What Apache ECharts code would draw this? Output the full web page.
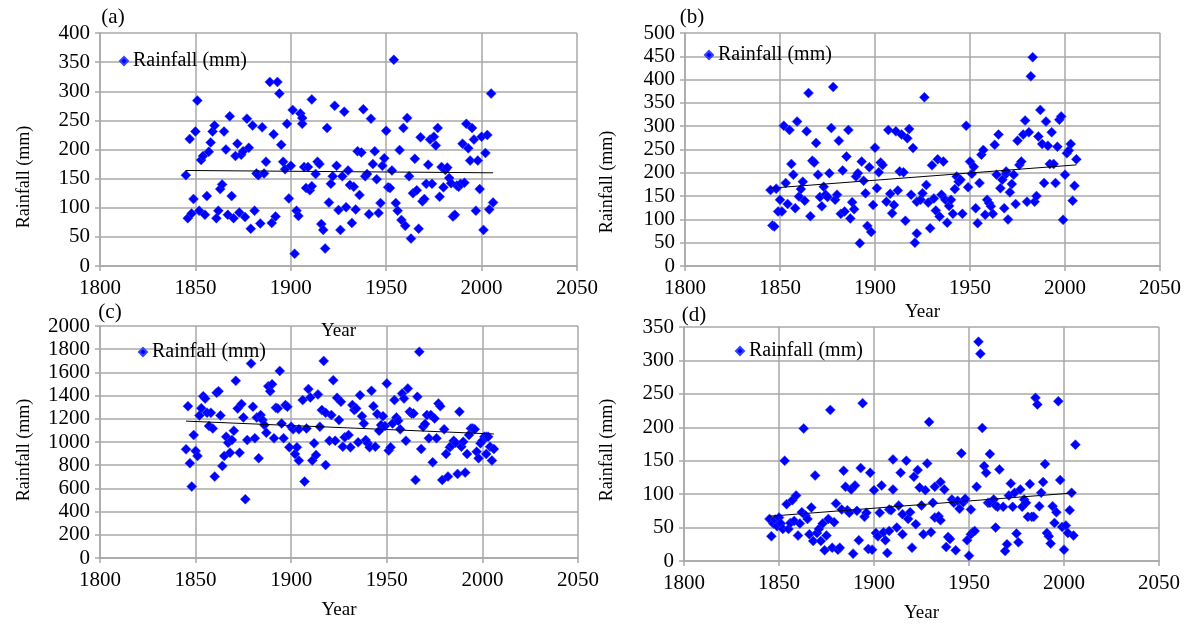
<!DOCTYPE html>
<html><head><meta charset="utf-8">
<script src="https://cdn.jsdelivr.net/npm/echarts/dist/echarts.min.js"></script>
<style>html,body{margin:0;padding:0;background:#fff}#c{width:1190px;height:625px}</style>
</head><body><div id="c"></div><script>
// ---------- DATA ----------
const panelLabels = ['(a)', '(b)', '(c)', '(d)'];
const seriesName = 'Rainfall (mm)';
const xTitle = 'Year';
const yTitle = 'Rainfall (mm)';
const xTicks = {min: 1800, max: 2050, interval: 50};
const yMax = [400, 500, 2000, 350];
const yInterval = [50, 50, 200, 50];

const yearsA = [1845,1846,1847,1848,1849,1850,1851,1852,1853,1854,1855,1856,1857,1858,1859,1860,1861,1862,1863,1864,1865,1866,1867,1868,1869,1870,1871,1872,1873,1874,1875,1876,1877,1878,1879,1880,1881,1882,1883,1884,1885,1886,1887,1889,1890,1891,1892,1893,1894,1895,1896,1897,1898,1899,1900,1901,1902,1903,1904,
1905,1906,1906,1907,1908,1909,1910,1911,1911,1913,1914,1915,1916,1917,1918,1919,1920,1921,1922,1923,1924,1925,1926,1927,1928,1929,1930,1931,1932,1933,1934,1935,1936,1937,1938,1939,1940,1941,1942,1943,1944,1945,1946,1947,1948,1949,1950,1951,1952,1953,1954,1955,1956,1957,1958,1959,1960,1961,1962,1963,1964,1965,1966,1967,1968,1969,1970,1971,1972,1973,1974,1975,1976,1977,1978,1979,1980,1981,1982,1983,1984,1985,1986,1987,1988,1989,1990,1991,1992,1993,1994,1995,1996,1997,1998,1999,2000,2001,2002,2003,2004,2005,2006];
const rainA = [156,82,218,90,115,231,284,95,182,189,88,120,196,212,231,241,82,95,132,140,231,200,88,257,120,82,189,210,92,191,197,84,253,203,64,241,95,159,156,73,238,159,179,316,74,226,85,316,296,208,179,166,244,116,172,268,21,95,86,
262,244,254,170,134,170,130,286,137,158,179,175,72,62,30,237,109,141,154,275,172,96,62,154,265,101,164,139,74,136,97,197,122,195,269,154,158,89,253,175,197,149,91,108,172,185,232,135,134,164,354,108,95,199,79,237,69,254,154,47,125,184,130,64,221,111,115,141,174,217,141,222,207,237,119,170,135,165,169,151,142,85,88,138,136,141,210,143,244,202,181,237,217,95,181,132,222,62,194,225,97,296,109];

const yearsB = [1845,1846,1847,1848,1849,1850,1851,1852,1853,1854,1855,1856,1857,1858,1859,1860,1861,1862,1863,1864,1865,1866,1867,1868,1869,1870,1871,1872,1873,1874,1875,1876,1877,1878,1879,1880,1881,1882,1883,1884,1885,1886,1887,1888,1889,1890,1891,1892,1893,1894,1895,1896,1897,1898,1899,1900,1901,1902,1903,1904,
1906,1907,1908,1909,1910,1911,1912,1913,1914,1915,1916,1917,1918,1919,1920,1921,1922,1922,1924,1925,1926,1927,1928,1929,1930,1931,1932,1933,1934,1935,1936,1937,1938,1939,1940,1941,1942,1943,1944,1945,1946,1948,1949,1950,1951,1952,1953,1954,1955,1956,1957,1958,1959,1960,1961,1962,1963,1964,1965,1966,1967,1968,1969,1969,1970,1971,1972,1973,1974,1975,1976,1977,1978,1979,1980,1981,1982,1983,1984,1985,1986,1987,1988,1989,1990,1991,1992,1993,1994,1995,1996,1997,1998,1999,2000,2001,2002,2003,2004,2005,2006];
const rainB = [163,87,85,166,117,142,117,301,178,133,292,219,196,124,310,149,165,181,140,289,371,107,226,222,264,196,148,128,170,153,148,199,296,384,142,153,269,112,205,117,235,292,102,137,122,192,199,49,224,183,156,86,212,73,131,254,167,201,222,217,
138,292,155,113,131,289,162,203,282,201,97,274,294,153,253,50,70,138,142,156,362,174,136,81,216,145,119,229,106,153,224,142,93,129,142,112,165,192,181,185,112,301,169,224,198,213,124,92,178,239,249,110,142,135,128,112,260,196,282,167,185,124,198,203,100,158,176,196,133,269,217,224,282,312,138,287,407,448,138,150,278,335,262,178,310,258,219,287,219,178,256,314,321,99,196,242,248,262,140,172,229];

const yearsC = [1845,1846,1847,1848,1849,1850,1851,1852,1853,1854,1855,1856,1857,1858,1859,1860,1861,1862,1863,1864,1865,1866,1867,1868,1869,1870,1871,1872,1873,1874,1875,1876,1877,1879,1880,1881,1882,1883,1884,1885,1886,1887,1888,1889,1890,1891,1892,1893,1894,1895,1896,1897,1898,1899,1900,1901,1902,1903,1904,1904,
1906,1907,1908,1909,1910,1911,1912,1913,1914,1915,1916,1917,1918,1918,1920,1921,1922,1923,1924,1925,1926,1927,1928,1930,1931,1932,1933,1934,1935,1936,1937,1938,1939,1940,1941,1942,1943,1944,1945,1946,1947,1948,1949,1950,1951,1952,1953,1954,1955,1956,1957,1958,1959,1960,1961,1962,1963,1964,1965,1966,1967,1968,1969,1970,1971,1972,1973,1974,1975,1976,1977,1978,1979,1980,1981,1982,1983,1984,1985,1986,1987,1988,1989,1990,1991,1992,1993,1994,1995,1996,1997,1998,1999,2000,2001,2002,2002,2003,2004,2005,2006];
const rainC = [937,1309,817,616,1060,923,880,1229,1292,1395,1375,1252,1138,1252,1117,702,1424,1438,1229,794,880,1046,994,908,1017,1097,1527,1289,908,1327,1212,507,1017,1676,1304,1032,1212,860,1232,1189,1146,1080,1481,1438,1498,1032,1295,1289,1613,1160,1032,1318,1304,954,1132,1109,897,954,840,1109,
1361,659,1117,1456,1384,840,989,888,1410,1132,1275,1699,1252,802,1011,1232,1533,1011,1381,1189,1347,960,1040,1060,954,1318,1275,1289,997,1404,1223,1160,1017,989,954,1441,1309,960,1241,1097,1146,1223,1138,1504,926,954,1160,1361,1212,1183,1109,1418,1375,1011,1461,1261,1246,1246,673,1390,1777,940,1132,1155,1232,1032,1232,825,1203,1032,1332,1309,673,1109,897,702,954,974,1011,994,725,1261,960,1003,736,897,1060,1117,1117,1109,917,860,989,1011,1046,1046,897,1046,960,840,940];

const yearsD = [1845,1846,1847,1848,1849,1850,1851,1852,1853,1854,1855,1856,1857,1858,1859,1860,1861,1862,1863,1864,1865,1866,1867,1868,1869,1870,1871,1872,1873,1874,1875,1876,1877,1878,1879,1880,1881,1882,1883,1884,1885,1886,1887,1888,1889,1890,1891,1892,1893,1894,1895,1896,1897,1898,1899,1900,1901,1902,1903,1904,1905,1906,1907,1908,1908,
1909,1910,1910,1912,1913,1914,1915,1915,1917,1918,1919,1920,1921,1922,1923,1924,1925,1926,1927,1928,1929,1930,1931,1932,1932,1934,1935,1935,1937,1938,1939,1940,1941,1942,1943,1944,1945,1946,1947,1948,1949,1950,1951,1951,1952,1953,1954,1955,1956,1957,1958,1959,1960,1961,1961,1963,1964,1964,1965,1966,1968,1969,1970,1971,1972,1973,1974,1975,1976,1977,1978,1979,1980,1981,1982,1983,1984,1985,1986,1987,1988,1989,1990,1991,1992,1993,1994,1995,1996,1997,1998,1999,2000,2001,2002,2003,2004,2005,2006];
const rainD = [63,37,56,62,52,65,56,48,150,85,48,57,91,60,98,38,56,73,198,68,63,40,80,30,128,42,48,30,56,16,38,63,226,20,58,86,17,20,77,135,111,76,72,107,11,113,75,31,139,236,66,72,18,132,17,106,42,37,72,113,43,31,12,45,77,
76,152,107,50,83,132,40,70,150,63,73,20,126,55,136,110,83,40,106,146,208,43,87,65,111,67,61,118,107,21,36,33,92,87,16,90,78,161,88,93,31,8,77,40,43,45,111,328,310,199,142,132,87,160,87,92,83,50,81,137,81,15,25,98,116,81,102,41,28,107,81,92,87,66,115,66,66,244,234,82,102,118,145,42,37,26,82,57,73,239,121,51,17,53,42,76,102,38,174];

// linear trend lines (start / end)
const trendYears = [1845, 2006];
const trendA = [164, 160];
const trendB = [167, 217];
const trendC = [1180, 1069];
const trendD = [67, 102];

// ---------- LAYOUT ----------
const grids = [
  {left: 100, top: 33, width: 477, height: 233},
  {left: 685, top: 33, width: 475, height: 233},
  {left: 100, top: 326, width: 478, height: 232},
  {left: 684, top: 327, width: 475, height: 234}
];
const xNameGap = [56, 37, 43, 43];
const legendPos = [[119, 51], [704, 45], [138, 342], [735, 341]];
const labelPos = [[113, 17], [692, 17], [110, 312], [694, 315]];
const yTitlePos = [[24, 177], [607, 182], [24, 450], [607, 450]];

const SERIF = 'Liberation Serif';
const gridColor = '#a8a8a8';
const zip = (a, b) => a.map((v, i) => [v, b[i]]);
const scatterData = [zip(yearsA, rainA), zip(yearsB, rainB), zip(yearsC, rainC), zip(yearsD, rainD)];
const trends = [trendA, trendB, trendC, trendD];
const plain = v => String(v);

const xAxes = [], yAxes = [], series = [], legends = [], graphics = [];
for (let i = 0; i < 4; i++) {
  xAxes.push({
    type: 'value', gridIndex: i, min: xTicks.min, max: xTicks.max, interval: xTicks.interval,
    name: xTitle, nameLocation: 'middle', nameGap: xNameGap[i],
    nameTextStyle: {fontFamily: SERIF, fontSize: 19, color: '#000'},
    axisLine: {show: true, onZero: false, lineStyle: {color: gridColor, width: 1.5}},
    axisTick: {show: true, length: 5, lineStyle: {color: gridColor, width: 1.5}},
    splitLine: {show: true, lineStyle: {color: gridColor, width: 1.5}},
    axisLabel: {fontFamily: SERIF, fontSize: 21, color: '#000', margin: 12, formatter: plain}
  });
  yAxes.push({
    type: 'value', gridIndex: i, min: 0, max: yMax[i], interval: yInterval[i],
    axisLine: {show: true, lineStyle: {color: gridColor, width: 1.5}},
    axisTick: {show: true, length: 5, lineStyle: {color: gridColor, width: 1.5}},
    splitLine: {show: true, lineStyle: {color: gridColor, width: 1.5}},
    axisLabel: {fontFamily: SERIF, fontSize: 21, color: '#000', margin: 10, formatter: plain}
  });
  series.push({
    name: seriesName, type: 'scatter', xAxisIndex: i, yAxisIndex: i,
    data: scatterData[i], symbol: 'diamond', symbolSize: [10, 10],
    itemStyle: {color: '#0000FF', opacity: 1, borderColor: '#3344ff', borderWidth: 0.5}, z: 3
  });
  series.push({
    name: 'trend', type: 'line', xAxisIndex: i, yAxisIndex: i,
    data: zip(trendYears, trends[i]), symbol: 'none', silent: true,
    lineStyle: {color: '#000', width: 1}, z: 4
  });
  legends.push({
    data: [{name: seriesName, icon: 'diamond'}], left: legendPos[i][0], top: legendPos[i][1],
    itemWidth: 8, itemHeight: 8, itemGap: 5, padding: 0,
    textStyle: {fontFamily: SERIF, fontSize: 20, color: '#000', lineHeight: 20}
  });
  graphics.push({
    type: 'text', x: labelPos[i][0], y: labelPos[i][1],
    style: {text: panelLabels[i], fontFamily: SERIF, fontSize: 21, fill: '#000', align: 'center', verticalAlign: 'middle'}
  });
  graphics.push({
    type: 'text', x: yTitlePos[i][0], y: yTitlePos[i][1], rotation: Math.PI / 2,
    style: {text: yTitle, fontFamily: SERIF, fontSize: 18, fill: '#000', align: 'center', verticalAlign: 'middle'}
  });
}

const chart = echarts.init(document.getElementById('c'), null, {renderer: 'canvas'});
chart.setOption({
  animation: false,
  backgroundColor: '#fff',
  grid: grids,
  xAxis: xAxes,
  yAxis: yAxes,
  legend: legends,
  series: series,
  graphic: graphics
});
</script></body></html>
